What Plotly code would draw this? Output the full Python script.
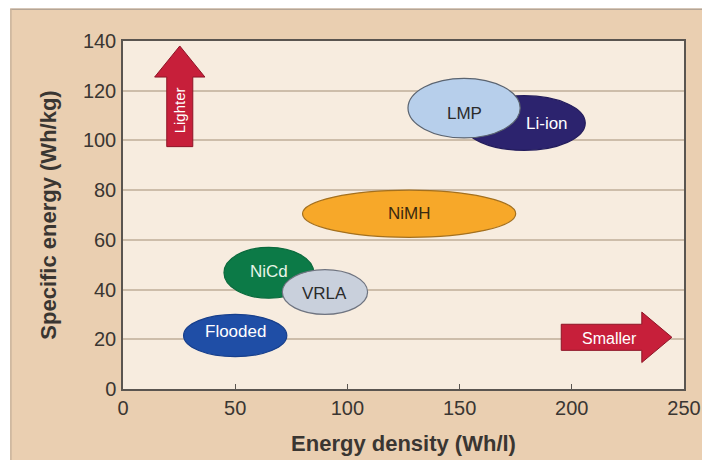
import plotly.graph_objects as go

# ---- data ----
batteries = ["Flooded", "NiCd", "VRLA", "NiMH", "Li-ion", "LMP"]
energy_density_min = [27, 45, 71, 80, 151.5, 127]      # Wh/l
energy_density_max = [73, 85, 109, 175, 206, 177]
specific_energy_min = [13, 36.5, 30, 61, 96, 101]     # Wh/kg
specific_energy_max = [30, 57, 48, 80, 118, 125]

x_ticks = [0, 50, 100, 150, 200, 250]
y_ticks = [0, 20, 40, 60, 80, 100, 120, 140]

fill_colors = ["#1f4ea6", "#0c7a47", "#c9d0dc", "#f7a829", "#2c236e", "#b7cfeb"]
line_colors = ["#173f8c", "#0a6a3d", "#6f7480", "#a4701e", "#231c5c", "#5b6470"]
text_colors = ["#ffffff", "#e8f5e8", "#2b2b2b", "#3a2a10", "#ffffff", "#2b2b2b"]
label_dx = [0, 0, 0, 0, 10, 0]
label_dy = [1.5, 0.5, -0.5, 0, 0, -2]

FONT = "Liberation Sans Narrow, Arial Narrow, Liberation Sans, Arial, sans-serif"
BEIGE = "#eacfb1"
PLOT_BG = "#f7ecdf"
ARROW_RED = "#c71f3a"
ARROW_EDGE = "#8e1426"

# viewport as seen by the page (the screenshot is scaled to 702x460)
VW, VH = 709, 462
SX, SY = VW / 702, VH / 460
FIG_W, FIG_H = VW + 4, VH + 3

def fx(p):  # reference pixel -> figure pixel
    return p * SX

def fy(p):
    return p * SY

ML = round(fx(122))
MT = round(fy(41))
PW = round(fx(680) - fx(122))
PH = round(fy(387) - fy(41))
MR = FIG_W - ML - PW
MB = FIG_H - MT - PH

def px_x(p):
    return (fx(p) - ML) / PW

def px_y(p):
    return (PH + MT - fy(p)) / PH

fig = go.Figure()
fig.add_trace(go.Scatter(x=[0, 250], y=[0, 140], mode="markers",
                         marker=dict(opacity=0), hoverinfo="skip", showlegend=False))

shapes = []
annotations = []

# white border strips (top and left) and thin frame lines of the scanned original
shapes.append(dict(type="rect", xref="paper", yref="paper", x0=px_x(-5), x1=px_x(720),
                   y0=px_y(8.5), y1=px_y(-5), fillcolor="white", line_width=0, layer="above"))
shapes.append(dict(type="rect", xref="paper", yref="paper", x0=px_x(-5), x1=px_x(9.5),
                   y0=px_y(480), y1=px_y(-5), fillcolor="white", line_width=0, layer="above"))
shapes.append(dict(type="line", xref="paper", yref="paper", x0=px_x(9.5), x1=px_x(720),
                   y0=px_y(9.2), y1=px_y(9.2), line=dict(color="#b5a595", width=1.5),
                   layer="above"))
shapes.append(dict(type="line", xref="paper", yref="paper", x0=px_x(10.2), x1=px_x(10.2),
                   y0=px_y(480), y1=px_y(9.2), line=dict(color="#c9b49c", width=1.5),
                   layer="above"))

for i, name in enumerate(batteries):
    shapes.append(dict(type="circle", xref="x", yref="y",
                       x0=energy_density_min[i], x1=energy_density_max[i],
                       y0=specific_energy_min[i], y1=specific_energy_max[i],
                       fillcolor=fill_colors[i], line=dict(color=line_colors[i], width=1.2),
                       layer="above"))
for i, name in enumerate(batteries):
    cx = (energy_density_min[i] + energy_density_max[i]) / 2 + label_dx[i]
    cy = (specific_energy_min[i] + specific_energy_max[i]) / 2 + label_dy[i]
    annotations.append(dict(x=cx, y=cy, xref="x", yref="y", text=name, showarrow=False,
                            font=dict(family=FONT, size=17, color=text_colors[i])))

# "Lighter" arrow (vertical)
ax_c, a_shaft_w, a_head_w, a_bottom, a_head_base, a_tip = 25.3, 11.6, 22.4, 97.5, 125.5, 138
p = (f"M {ax_c - a_shaft_w/2} {a_bottom} L {ax_c - a_shaft_w/2} {a_head_base} "
     f"L {ax_c - a_head_w/2} {a_head_base} L {ax_c} {a_tip} L {ax_c + a_head_w/2} {a_head_base} "
     f"L {ax_c + a_shaft_w/2} {a_head_base} L {ax_c + a_shaft_w/2} {a_bottom} Z")
shapes.append(dict(type="path", xref="x", yref="y", path=p, fillcolor=ARROW_RED,
                   line=dict(color=ARROW_EDGE, width=1), layer="above"))
annotations.append(dict(x=ax_c, y=(a_bottom + a_head_base) / 2 + 0.5, xref="x", yref="y",
                        text="Lighter", textangle=-90, showarrow=False,
                        font=dict(family=FONT, size=15, color="white")))

# "Smaller" arrow (horizontal)
sy_c, s_shaft_h, s_head_h, s_left, s_head_base, s_tip = 20.8, 10.5, 20.3, 195.3, 231.2, 244.6
p = (f"M {s_left} {sy_c - s_shaft_h/2} L {s_head_base} {sy_c - s_shaft_h/2} "
     f"L {s_head_base} {sy_c - s_head_h/2} L {s_tip} {sy_c} L {s_head_base} {sy_c + s_head_h/2} "
     f"L {s_head_base} {sy_c + s_shaft_h/2} L {s_left} {sy_c + s_shaft_h/2} Z")
shapes.append(dict(type="path", xref="x", yref="y", path=p, fillcolor=ARROW_RED,
                   line=dict(color=ARROW_EDGE, width=1), layer="above"))
annotations.append(dict(x=(s_left + s_head_base) / 2 + 3.5, y=sy_c - 0.3, xref="x", yref="y",
                        text="Smaller", showarrow=False,
                        font=dict(family=FONT, size=16, color="white")))

fig.update_layout(
    width=FIG_W, height=FIG_H,
    margin=dict(l=ML, r=MR, t=MT, b=MB),
    paper_bgcolor=BEIGE,
    plot_bgcolor=PLOT_BG,
    shapes=shapes,
    annotations=annotations,
    showlegend=False,
    xaxis=dict(range=[0, 250], tickvals=x_ticks, ticktext=[str(v) for v in x_ticks],
               showgrid=False, zeroline=False, showline=True, linecolor="#5a5550", linewidth=1.5,
               mirror=True, ticks="inside", ticklen=5, tickcolor="#5a5550",
               tickfont=dict(family=FONT, size=20, color="#3a3632"),
               title=dict(text="<b>Energy density (Wh/l)</b>", standoff=18,
                          font=dict(family=FONT, size=22, color="#3a3632"))),
    yaxis=dict(range=[0, 140], tickvals=y_ticks, ticktext=[str(v) for v in y_ticks],
               showgrid=True, gridcolor="#cdbdaa", gridwidth=1.6, zeroline=False,
               showline=True, linecolor="#5a5550", linewidth=1.5, mirror=True,
               ticks="", ticklabelstandoff=1,
               tickfont=dict(family=FONT, size=20, color="#3a3632"),
               title=dict(text="<b>Specific energy (Wh/kg)</b>", standoff=20,
                          font=dict(family=FONT, size=22, color="#3a3632"))),
)

fig.write_html("out.html", config={"displayModeBar": False},
               post_script="document.body.style.margin='0';document.body.style.overflow='hidden';")
